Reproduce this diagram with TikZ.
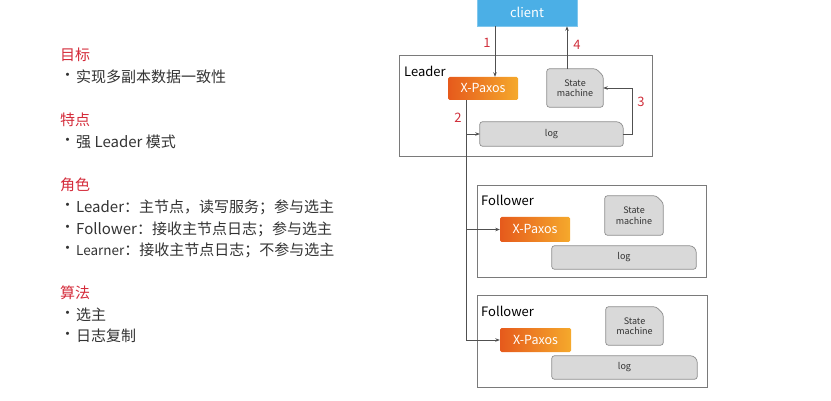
\documentclass[tikz,border=0pt]{standalone}
\usepackage{fontspec}
\setmainfont{Noto Sans CJK SC}
\usetikzlibrary{backgrounds,arrows.meta}
\definecolor{titlered}{HTML}{D42B3A}
\definecolor{bodygray}{HTML}{333333}
\definecolor{framegray}{HTML}{7A7A7A}
\definecolor{linegray}{HTML}{505050}
\definecolor{clientblue}{HTML}{4BAFE6}
\definecolor{orangeA}{HTML}{E65A1C}
\definecolor{orangeB}{HTML}{F5A92C}
\definecolor{boxgray}{HTML}{D9D9D9}
\definecolor{boxline}{HTML}{8C8C8C}
\definecolor{numred}{HTML}{D0303C}
\newcommand\cutbox[2]{%
  \begin{pgfonlayer}{background}
    \path[cutshape] (#1.south west) -- (#1.south east) -- ([yshift=-#2pt]#1.north east)
      -- ([xshift=-#2pt]#1.north east) -- (#1.north west) -- cycle;
  \end{pgfonlayer}}
\begin{document}
\begin{tikzpicture}[x=1pt,y=-1pt,
  title/.style={anchor=west, text=titlered, font=\fontsize{15}{17}\selectfont, inner sep=0},
  item/.style={anchor=west, text=bodygray, font=\fontsize{15}{17}\selectfont, inner sep=0},
  bullet/.style={anchor=west, text=bodygray, font=\fontsize{15}{17}\selectfont, inner sep=0},
  frame/.style={draw=framegray, line width=0.9pt, inner sep=0},
  framelabel/.style={anchor=west, text=black, font=\fontsize{13}{15}\selectfont, inner sep=0},
  xpaxos/.style={rounded corners=1.5pt, left color=orangeA, right color=orangeB, text=white,
    font=\fontsize{12.5}{14}\selectfont, inner sep=0},
  smnode/.style={inner sep=0, align=center, text=bodygray, font=\fontsize{9}{10.5}\selectfont},
  lognode/.style={inner sep=0, text=bodygray, font=\fontsize{9}{11}\selectfont},
  cutshape/.style={fill=boxgray, draw=boxline, line width=0.7pt, rounded corners=2.5pt},
  arr/.style={draw=linegray, line width=0.8pt, -{Stealth[length=4.5pt,width=3.5pt]}},
  num/.style={text=numred, font=\fontsize{13}{15}\selectfont, inner sep=0}]
\useasboundingbox (0,0) rectangle (831,401);

% left text
\node[title] (t1) at (60,55) {目标};
\node[bullet] (b1) at (60,77) {\textbullet};
\node[item] (i1) at (76,77) {实现多副本数据一致性};
\node[title] (t2) at (60,120) {特点};
\node[bullet] (b2) at (60,142) {\textbullet};
\node[item] (i2) at (76,142) {强 Leader 模式};
\node[title] (t3) at (60,185) {角色};
\node[bullet] (b3) at (60,207) {\textbullet};
\node[item] (i3) at (76,207) {Leader：主节点，读写服务；参与选主};
\node[bullet] (b4) at (60,229) {\textbullet};
\node[item] (i4) at (76,229) {Follower：接收主节点日志；参与选主};
\node[bullet] (b5) at (60,250) {\textbullet};
\node[item] (i5) at (76,250) {{\fontsize{13.5}{15}\selectfont Learner}：接收主节点日志；不参与选主};
\node[title] (t4) at (60,293) {算法};
\node[bullet] (b6) at (60,315) {\textbullet};
\node[item] (i6) at (76,315) {选主};
\node[bullet] (b7) at (60,336) {\textbullet};
\node[item] (i7) at (76,336) {日志复制};

% client
\node[fill=clientblue, draw=clientblue!70!white, line width=0.6pt, minimum width=100pt, minimum height=28pt,
  inner sep=0, text=white, font=\fontsize{13}{15}\selectfont] (client) at (527,12) {client};

% frames
\node[frame, minimum width=253pt, minimum height=101pt] (lbox) at (525.5,105.5) {};
\node[framelabel] (llab) at (404,71) {Leader};
\node[frame, minimum width=229pt, minimum height=92pt] (f1box) at (591.5,231) {};
\node[framelabel] (f1lab) at (481,200) {Follower};
\node[frame, minimum width=230pt, minimum height=92pt] (f2box) at (592,341) {};
\node[framelabel] (f2lab) at (481,311) {Follower};

% leader components
\node[xpaxos, minimum width=70pt, minimum height=23pt] (lxp) at (483,88.5) {X-Paxos};
\node[smnode, minimum width=56pt, minimum height=38pt] (lsm) at (575,88) {State\\machine};
\cutbox{lsm}{7}
\node[lognode, minimum width=143pt, minimum height=24pt] (llog) at (551.5,134) {log};
\cutbox{llog}{4}

% follower 1
\node[xpaxos, minimum width=70pt, minimum height=25pt] (f1xp) at (535,229.5) {X-Paxos};
\node[smnode, minimum width=58pt, minimum height=39pt] (f1sm) at (634,215.5) {State\\machine};
\cutbox{f1sm}{7}
\node[lognode, minimum width=144pt, minimum height=23pt] (f1log) at (624,257.5) {log};
\cutbox{f1log}{4}

% follower 2
\node[xpaxos, minimum width=71pt, minimum height=24pt] (f2xp) at (535.5,340) {X-Paxos};
\node[smnode, minimum width=57pt, minimum height=38pt] (f2sm) at (634.5,326) {State\\machine};
\cutbox{f2sm}{7}
\node[lognode, minimum width=145pt, minimum height=23pt] (f2log) at (624.5,367.5) {log};
\cutbox{f2log}{4}

% connectors
\draw[arr] ([xshift=12pt]lxp.north |- client.south) -- ([xshift=12pt]lxp.north);
\draw[arr] ([xshift=-8pt]lsm.north) -- ([xshift=-8pt]lsm.north |- client.south);
\draw[arr] (llog.east) -- ++(9,0) |- (lsm.east);
\coordinate (trunk) at ([xshift=-17pt]lxp.south);
\draw[arr] (trunk) |- (f2xp.west);
\draw[arr] (trunk |- llog.west) -- (llog.west);
\draw[arr] (trunk |- f1xp.west) -- (f1xp.west);

% step numbers
\node[num] (n1) at (487,43) {1};
\node[num] (n4) at (577,45) {4};
\node[num] (n3) at (641,102) {3};
\node[num] (n2) at (458,118) {2};
\end{tikzpicture}
\end{document}
